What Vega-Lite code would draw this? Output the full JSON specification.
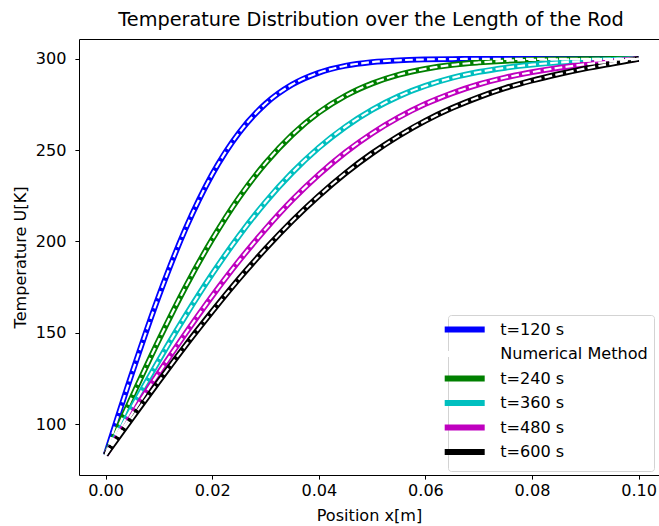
{
  "$schema": "https://vega.github.io/schema/vega-lite/v6.json",
  "width": 580,
  "height": 436,
  "autosize": {"type": "none"},
  "padding": {"left": 79, "top": 39, "right": 0, "bottom": 51},
  "background": "white",
  "title": {
    "text": "Temperature Distribution over the Length of the Rod",
    "font": "DejaVu Sans",
    "fontSize": 19.3,
    "fontWeight": "normal",
    "color": "black",
    "frame": "group",
    "anchor": "middle",
    "dx": 2,
    "offset": 9
  },
  "config": {
    "view": {"stroke": "black", "strokeWidth": 1},
    "font": "DejaVu Sans",
    "axis": {
      "grid": false,
      "domain": false,
      "tickColor": "black",
      "tickWidth": 1,
      "tickSize": 4.1,
      "labelFont": "DejaVu Sans",
      "labelFontSize": 16.1,
      "labelColor": "black",
      "titleFont": "DejaVu Sans",
      "titleFontSize": 16.1,
      "titleFontWeight": "normal",
      "titleColor": "black"
    }
  },
  "data": {
    "values": [
      {"x": 0.000, "t": "t=120 s", "U": 83.15},
      {"x": 0.005, "t": "t=120 s", "U": 128.3},
      {"x": 0.010, "t": "t=120 s", "U": 170.3},
      {"x": 0.015, "t": "t=120 s", "U": 207.0},
      {"x": 0.020, "t": "t=120 s", "U": 236.8},
      {"x": 0.025, "t": "t=120 s", "U": 259.4},
      {"x": 0.030, "t": "t=120 s", "U": 275.4},
      {"x": 0.035, "t": "t=120 s", "U": 285.9},
      {"x": 0.040, "t": "t=120 s", "U": 292.4},
      {"x": 0.045, "t": "t=120 s", "U": 296.2},
      {"x": 0.050, "t": "t=120 s", "U": 298.2},
      {"x": 0.055, "t": "t=120 s", "U": 299.2},
      {"x": 0.060, "t": "t=120 s", "U": 299.66},
      {"x": 0.065, "t": "t=120 s", "U": 299.87},
      {"x": 0.070, "t": "t=120 s", "U": 299.95},
      {"x": 0.075, "t": "t=120 s", "U": 299.98},
      {"x": 0.080, "t": "t=120 s", "U": 299.99},
      {"x": 0.085, "t": "t=120 s", "U": 300.0},
      {"x": 0.090, "t": "t=120 s", "U": 300.0},
      {"x": 0.095, "t": "t=120 s", "U": 300.0},
      {"x": 0.100, "t": "t=120 s", "U": 300.0},
      {"x": 0.000, "t": "t=240 s", "U": 83.15},
      {"x": 0.005, "t": "t=240 s", "U": 115.2},
      {"x": 0.010, "t": "t=240 s", "U": 146.2},
      {"x": 0.015, "t": "t=240 s", "U": 175.2},
      {"x": 0.020, "t": "t=240 s", "U": 201.2},
      {"x": 0.025, "t": "t=240 s", "U": 223.9},
      {"x": 0.030, "t": "t=240 s", "U": 242.9},
      {"x": 0.035, "t": "t=240 s", "U": 258.4},
      {"x": 0.040, "t": "t=240 s", "U": 270.6},
      {"x": 0.045, "t": "t=240 s", "U": 279.8},
      {"x": 0.050, "t": "t=240 s", "U": 286.5},
      {"x": 0.055, "t": "t=240 s", "U": 291.3},
      {"x": 0.060, "t": "t=240 s", "U": 294.5},
      {"x": 0.065, "t": "t=240 s", "U": 296.7},
      {"x": 0.070, "t": "t=240 s", "U": 298.0},
      {"x": 0.075, "t": "t=240 s", "U": 298.9},
      {"x": 0.080, "t": "t=240 s", "U": 299.4},
      {"x": 0.085, "t": "t=240 s", "U": 299.66},
      {"x": 0.090, "t": "t=240 s", "U": 299.83},
      {"x": 0.095, "t": "t=240 s", "U": 299.91},
      {"x": 0.100, "t": "t=240 s", "U": 300.0},
      {"x": 0.000, "t": "t=360 s", "U": 83.15},
      {"x": 0.005, "t": "t=360 s", "U": 109.3},
      {"x": 0.010, "t": "t=360 s", "U": 135.0},
      {"x": 0.015, "t": "t=360 s", "U": 159.4},
      {"x": 0.020, "t": "t=360 s", "U": 182.2},
      {"x": 0.025, "t": "t=360 s", "U": 203.0},
      {"x": 0.030, "t": "t=360 s", "U": 221.6},
      {"x": 0.035, "t": "t=360 s", "U": 237.7},
      {"x": 0.040, "t": "t=360 s", "U": 251.4},
      {"x": 0.045, "t": "t=360 s", "U": 262.8},
      {"x": 0.050, "t": "t=360 s", "U": 272.1},
      {"x": 0.055, "t": "t=360 s", "U": 279.5},
      {"x": 0.060, "t": "t=360 s", "U": 285.2},
      {"x": 0.065, "t": "t=360 s", "U": 289.6},
      {"x": 0.070, "t": "t=360 s", "U": 292.8},
      {"x": 0.075, "t": "t=360 s", "U": 295.1},
      {"x": 0.080, "t": "t=360 s", "U": 296.8},
      {"x": 0.085, "t": "t=360 s", "U": 298.0},
      {"x": 0.090, "t": "t=360 s", "U": 298.8},
      {"x": 0.095, "t": "t=360 s", "U": 299.45},
      {"x": 0.100, "t": "t=360 s", "U": 300.0},
      {"x": 0.000, "t": "t=480 s", "U": 83.15},
      {"x": 0.005, "t": "t=480 s", "U": 105.9},
      {"x": 0.010, "t": "t=480 s", "U": 128.2},
      {"x": 0.015, "t": "t=480 s", "U": 149.7},
      {"x": 0.020, "t": "t=480 s", "U": 170.2},
      {"x": 0.025, "t": "t=480 s", "U": 189.3},
      {"x": 0.030, "t": "t=480 s", "U": 206.8},
      {"x": 0.035, "t": "t=480 s", "U": 222.7},
      {"x": 0.040, "t": "t=480 s", "U": 236.6},
      {"x": 0.045, "t": "t=480 s", "U": 248.8},
      {"x": 0.050, "t": "t=480 s", "U": 259.2},
      {"x": 0.055, "t": "t=480 s", "U": 268.0},
      {"x": 0.060, "t": "t=480 s", "U": 275.3},
      {"x": 0.065, "t": "t=480 s", "U": 281.2},
      {"x": 0.070, "t": "t=480 s", "U": 286.0},
      {"x": 0.075, "t": "t=480 s", "U": 289.75},
      {"x": 0.080, "t": "t=480 s", "U": 292.7},
      {"x": 0.085, "t": "t=480 s", "U": 295.1},
      {"x": 0.090, "t": "t=480 s", "U": 297.0},
      {"x": 0.095, "t": "t=480 s", "U": 298.55},
      {"x": 0.100, "t": "t=480 s", "U": 300.0},
      {"x": 0.000, "t": "t=600 s", "U": 83.15},
      {"x": 0.005, "t": "t=600 s", "U": 103.5},
      {"x": 0.010, "t": "t=600 s", "U": 123.5},
      {"x": 0.015, "t": "t=600 s", "U": 143.1},
      {"x": 0.020, "t": "t=600 s", "U": 161.7},
      {"x": 0.025, "t": "t=600 s", "U": 179.5},
      {"x": 0.030, "t": "t=600 s", "U": 196.0},
      {"x": 0.035, "t": "t=600 s", "U": 211.2},
      {"x": 0.040, "t": "t=600 s", "U": 225.0},
      {"x": 0.045, "t": "t=600 s", "U": 237.4},
      {"x": 0.050, "t": "t=600 s", "U": 248.3},
      {"x": 0.055, "t": "t=600 s", "U": 257.8},
      {"x": 0.060, "t": "t=600 s", "U": 266.1},
      {"x": 0.065, "t": "t=600 s", "U": 273.1},
      {"x": 0.070, "t": "t=600 s", "U": 279.0},
      {"x": 0.075, "t": "t=600 s", "U": 284.0},
      {"x": 0.080, "t": "t=600 s", "U": 288.1},
      {"x": 0.085, "t": "t=600 s", "U": 291.6},
      {"x": 0.090, "t": "t=600 s", "U": 294.7},
      {"x": 0.095, "t": "t=600 s", "U": 297.4},
      {"x": 0.100, "t": "t=600 s", "U": 300.0}
    ]
  },
  "encoding": {
    "x": {
      "field": "x",
      "type": "quantitative",
      "scale": {"domain": [-0.005, 0.10382], "nice": false, "zero": false},
      "axis": {
        "title": "Position x[m]",
        "values": [0, 0.02, 0.04, 0.06, 0.08, 0.1],
        "format": ".2f",
        "labelPadding": 3,
        "titlePadding": 9
      }
    },
    "y": {
      "field": "U",
      "type": "quantitative",
      "scale": {"domain": [72.15, 310.85], "nice": false, "zero": false},
      "axis": {
        "title": "Temperature U[K]",
        "values": [100, 150, 200, 250, 300],
        "labelPadding": 9,
        "titlePadding": 7
      }
    }
  },
  "layer": [
    {
      "mark": {"type": "line", "strokeWidth": 5.8, "interpolate": "monotone", "clip": true},
      "encoding": {
        "color": {
          "field": "t",
          "type": "nominal",
          "scale": {
            "domain": ["t=120 s", "Numerical Method", "t=240 s", "t=360 s", "t=480 s", "t=600 s"],
            "range": ["#0000ff", "#ffffff", "#008000", "#00bfbf", "#bf00bf", "#000000"]
          },
          "legend": {
            "title": null,
            "orient": "none",
            "legendX": 369,
            "legendY": 276,
            "symbolType": "M-4,0H4",
            "symbolSize": 100,
            "symbolStrokeWidth": 6.2,
            "symbolOffset": 2.2,
            "labelOffset": 27,
            "rowPadding": -0.5,
            "padding": 6,
            "labelFont": "DejaVu Sans",
            "labelFontSize": 16.1,
            "labelColor": "black",
            "fillColor": "white",
            "strokeColor": "#d3d3d3",
            "cornerRadius": 3
          }
        }
      }
    },
    {
      "mark": {"type": "line", "strokeWidth": 2.2, "strokeDash": [7.7, 3.3], "color": "white", "interpolate": "monotone", "clip": true},
      "encoding": {
        "detail": {"field": "t", "type": "nominal"}
      }
    }
  ]
}
